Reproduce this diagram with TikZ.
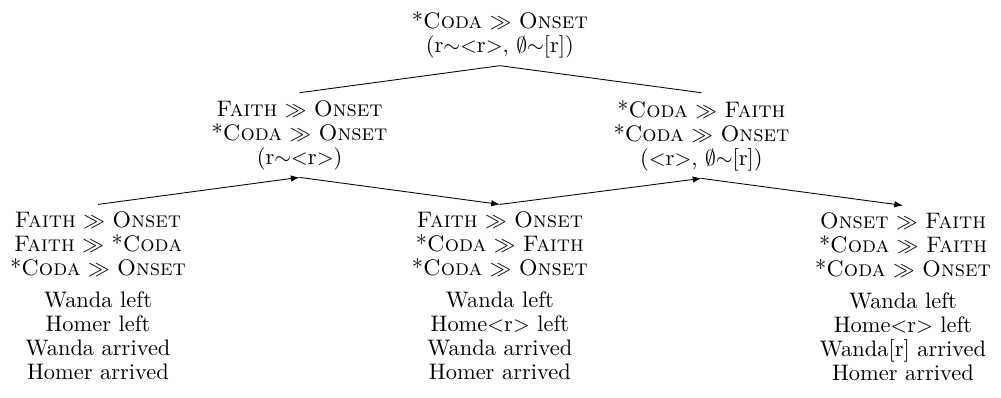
\documentclass[tikz,border=0pt]{standalone}
\usetikzlibrary{positioning,arrows.meta}
\newcommand{\cn}[1]{\textsc{#1}}
\begin{document}
\begin{tikzpicture} [
        rank/.style={align=center, font=\fontsize{10.4}{11.1}\selectfont},
        link/.style={-{Latex[length=4pt,width=3pt]}, thin},
        node distance=0.44cm ]
    \useasboundingbox (-8.135,0.065) rectangle (8.155,-6.41);
    \node[rank, anchor=north] (top) at (0,0) {*\cn{Coda} $\gg$ \cn{Onset}\\(r$\sim$$<$r$>$, $\emptyset$$\sim$[r])};
    \node[rank, below=of top, xshift=-3.26cm] (midL) {\cn{Faith} $\gg$ \cn{Onset}\\*\cn{Coda} $\gg$ \cn{Onset}\\(r$\sim$$<$r$>$)};
    \node[rank, below=of top, xshift=3.28cm] (midR) {*\cn{Coda} $\gg$ \cn{Faith}\\*\cn{Coda} $\gg$ \cn{Onset}\\($<$r$>$, $\emptyset$$\sim$[r])};
    \node[rank, below=of midL, xshift=-3.28cm] (botL) {\cn{Faith} $\gg$ \cn{Onset}\\\cn{Faith} $\gg$ *\cn{Coda}\\*\cn{Coda} $\gg$ \cn{Onset}\\[3.6pt]
        Wanda left\\Homer left\\Wanda arrived\\Homer arrived};
    \node[rank, below=of midL, xshift=3.26cm] (botM) {\cn{Faith} $\gg$ \cn{Onset}\\*\cn{Coda} $\gg$ \cn{Faith}\\*\cn{Coda} $\gg$ \cn{Onset}\\[3.6pt]
        Wanda left\\Home$<$r$>$ left\\Wanda arrived\\Homer arrived};
    \node[rank, below=of midR, xshift=3.28cm] (botR) {\cn{Onset} $\gg$ \cn{Faith}\\*\cn{Coda} $\gg$ \cn{Faith}\\*\cn{Coda} $\gg$ \cn{Onset}\\[3.6pt]
        Wanda left\\Home$<$r$>$ left\\Wanda[r] arrived\\Homer arrived};

    \draw (top.south) -- (midL.north);
    \draw (top.south) -- (midR.north);
    \draw[link] (botL.north) -- (midL.south);
    \draw[link] (midL.south) -- (botM.north);
    \draw[link] (botM.north) -- (midR.south);
    \draw[link] (midR.south) -- (botR.north);
\end{tikzpicture}
\end{document}
